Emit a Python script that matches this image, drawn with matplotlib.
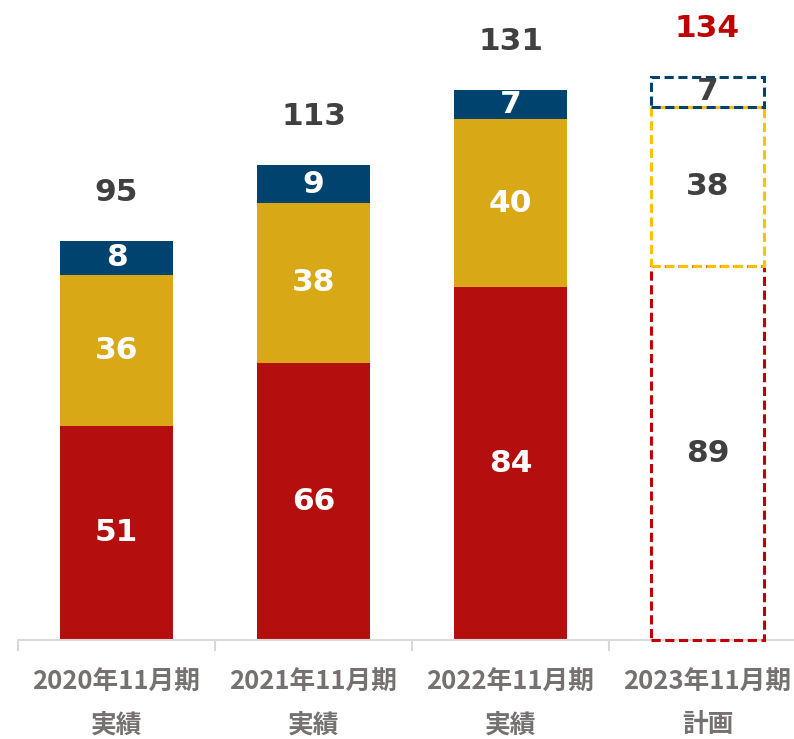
import matplotlib
matplotlib.use("Agg")
import matplotlib.pyplot as plt
import numpy as np

categories = ["2020年11月期\n実績", "2021年11月期\n実績", "2022年11月期\n実績", "2023年11月期\n計画"]
seg_bottom = [51, 66, 84, 89]
seg_middle = [36, 38, 40, 38]
seg_top = [8, 9, 7, 7]
totals = [95, 113, 131, 134]
is_plan = [False, False, False, True]

c_red, c_gold, c_navy = "#B50E0E", "#D9A816", "#00436E"
d_red, d_gold, d_navy = "#C00000", "#FFC000", "#00436E"

fig = plt.figure(figsize=(7.94, 7.39), dpi=100)
ax = fig.add_axes([18/794, 99/739, 776/794, 620/739])

x = np.arange(len(categories))
w = 0.57
lab_font = dict(fontsize=22.5, fontweight="bold", family="DejaVu Sans")

for i in x:
    b = seg_bottom[i]; m = seg_middle[i]; t = seg_top[i]
    if not is_plan[i]:
        ax.bar(i, b, w, color=c_red, zorder=2)
        ax.bar(i, m, w, bottom=b, color=c_gold, zorder=2)
        ax.bar(i, t, w, bottom=b + m, color=c_navy, zorder=2)
        tc = "white"
        totc = "#404040"
    else:
        for val, bot, col in [(b, 0, d_red), (m, b, d_gold), (t, b + m, d_navy)]:
            ax.bar(i, val, w, bottom=bot, fill=False, edgecolor=col,
                   linestyle=(0, (3, 1.5)), linewidth=2.2, zorder=3, clip_on=False)
        tc = "#404040"
        totc = "#C00000"
    ax.text(i, b / 2, str(b), ha="center", va="center", color=tc, zorder=4, **lab_font)
    ax.text(i, b + m / 2, str(m), ha="center", va="center", color=tc, zorder=4, **lab_font)
    ax.text(i, b + m + t / 2, str(t), ha="center", va="center", color=tc, zorder=4, **lab_font)
    ax.annotate(str(totals[i]), (i, totals[i]), xytext=(0, 35), textcoords="offset points",
                ha="center", va="center", color=totc, **lab_font)

for s in ["top", "left", "right"]:
    ax.spines[s].set_visible(False)
ax.spines["bottom"].set_color("#D9D9D9")
ax.spines["bottom"].set_linewidth(1.5)
ax.set_yticks([])
ax.set_xticks(x)
ax.set_xticklabels(categories, fontsize=18.5, fontweight="bold", color="#767171",
                   family=["Noto Sans CJK JP", "DejaVu Sans"], linespacing=1.72)
ax.tick_params(axis="x", which="major", length=0, pad=21)
ax.set_xticks(np.arange(-0.5, 4.0, 1.0), minor=True)
ax.tick_params(axis="x", which="minor", length=8, width=1.5, color="#D9D9D9")
ax.set_xlim(-0.5, 3.439)
ax.set_ylim(0, 147.6)

fig.savefig("out.png", dpi=100)
